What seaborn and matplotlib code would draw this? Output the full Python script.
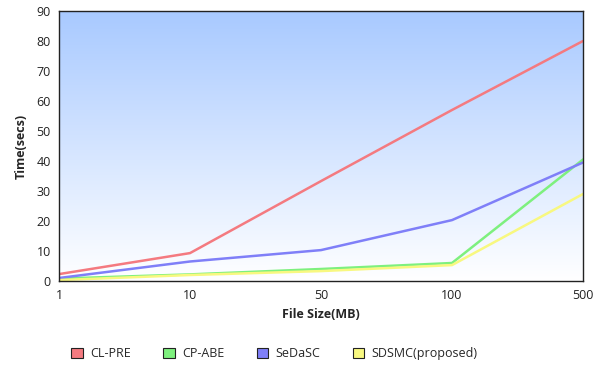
import numpy as np
import pandas as pd
import matplotlib.pyplot as plt
import seaborn as sns
from matplotlib.patches import Patch

# data
file_sizes = ['1', '10', '50', '100', '500']
cl_pre = [2.3, 9.3, 33.3, 57.0, 80.0]
cp_abe = [0.8, 2.2, 4.0, 6.0, 40.5]
sedasc = [1.0, 6.5, 10.3, 20.3, 39.5]
sdsmc = [0.3, 2.0, 3.3, 5.3, 29.0]

series = {'CL-PRE': cl_pre, 'CP-ABE': cp_abe, 'SeDaSC': sedasc, 'SDSMC(proposed)': sdsmc}
colors = {'CL-PRE': '#f47a80', 'CP-ABE': '#7ef07e', 'SeDaSC': '#7f7ff8', 'SDSMC(proposed)': '#f8f880'}

df = pd.DataFrame([
    {'size': s, 'pos': i, 'scheme': name, 'time': v}
    for name, vals in series.items()
    for i, (s, v) in enumerate(zip(file_sizes, vals))
])

sns.set_style('white')
plt.rcParams['font.family'] = ['Open Sans', 'DejaVu Sans']

fig = plt.figure(figsize=(6.02, 3.65), dpi=100)
ax = fig.add_axes([59 / 602, 1 - 281 / 365, 524 / 602, 270 / 365])

# gradient background: light blue at top fading to white
grad = np.linspace(0, 1, 256).reshape(-1, 1)
top = np.array([0.66, 0.79, 1.0])
bottom = np.array([1.0, 1.0, 1.0])
img = bottom + (top - bottom) * grad
img = img.reshape(256, 1, 3)
ax.imshow(img, extent=[0, len(file_sizes) - 1, 0, 90], origin='lower', aspect='auto', zorder=0)

sns.lineplot(data=df, x='pos', y='time', hue='scheme', palette=colors,
             linewidth=1.8, ax=ax, legend=False, zorder=2)

ax.set_xlim(0, len(file_sizes) - 1)
ax.set_ylim(0, 90)
ax.set_xticks(range(len(file_sizes)))
ax.set_xticklabels(file_sizes)
ax.set_yticks(range(0, 91, 10))
ax.tick_params(axis='both', labelsize=9, colors='#222222', length=0, pad=6)
ax.set_xlabel('File Size(MB)', fontsize=9, fontweight='bold', labelpad=4)
ax.set_ylabel('Time(secs)', fontsize=9, fontweight='bold', labelpad=6)
for sp in ax.spines.values():
    sp.set_color('#222222')
    sp.set_linewidth(1)

handles = [Patch(facecolor=colors[n], edgecolor='#222222', linewidth=0.8, label=n) for n in series]
fig.legend(handles=handles, loc='lower center', ncol=4, frameon=False, fontsize=9,
           bbox_to_anchor=(0.456, -0.018), handlelength=0.9, handleheight=0.9,
           columnspacing=2.6, handletextpad=0.6)

fig.savefig('out.png', dpi=100)
